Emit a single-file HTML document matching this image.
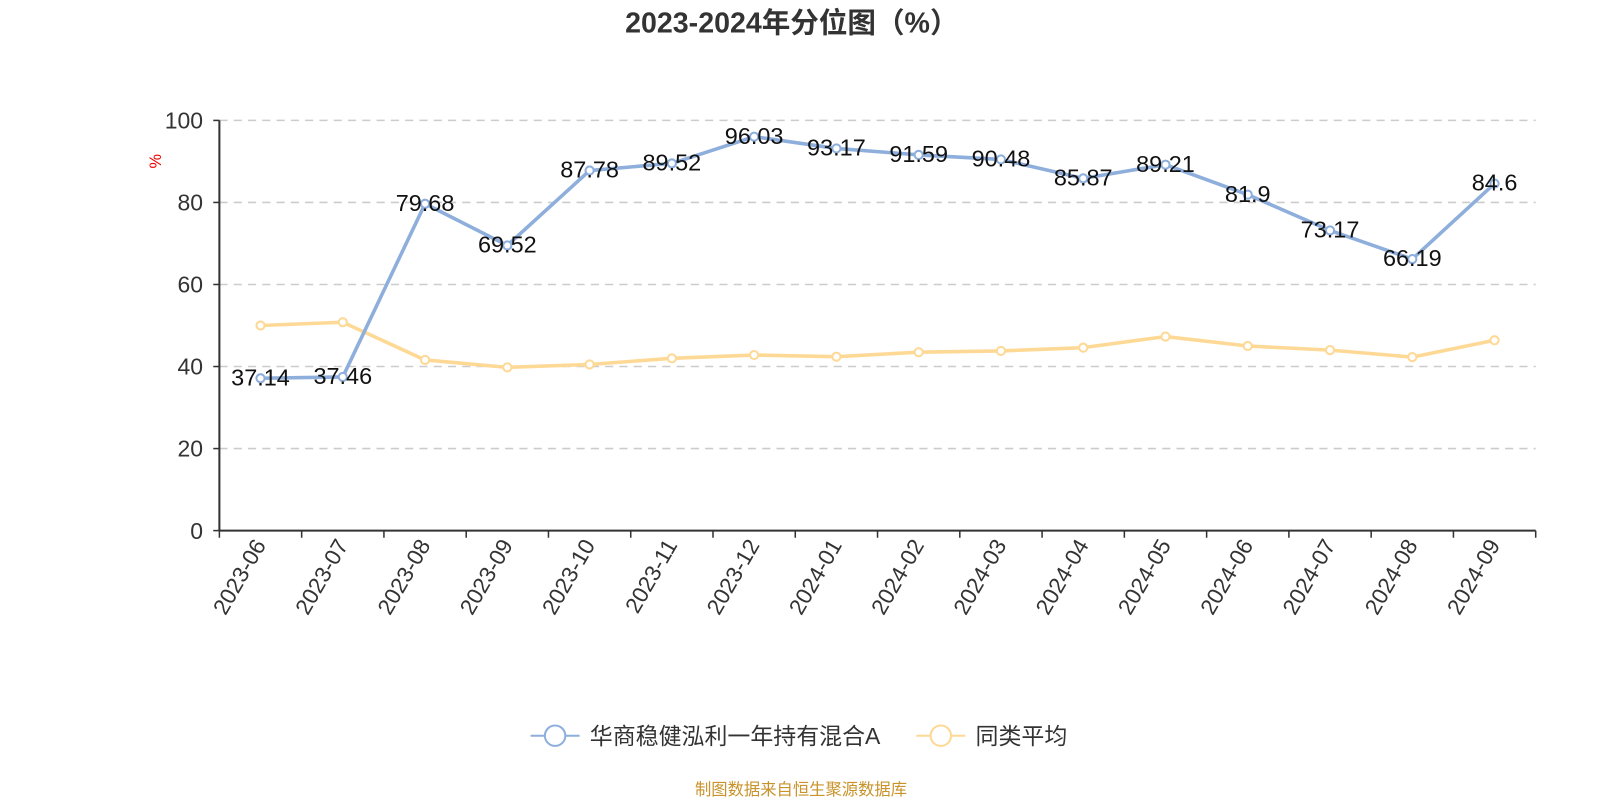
<!DOCTYPE html>
<html><head><meta charset="utf-8"><style>
body{margin:0;background:#fff;width:1600px;height:800px;overflow:hidden;font-family:"Liberation Sans","Noto Sans CJK SC",sans-serif}
</style></head><body>
<svg id="chart" width="1600" height="800" xmlns="http://www.w3.org/2000/svg" font-family="Liberation Sans, Noto Sans CJK SC, sans-serif">
<g id="root" transform="scale(1.0204)">
<text x="776" y="32" text-anchor="middle" font-size="28" font-weight="bold" fill="#333">2023-2024年分位图（%）</text>
<text transform="translate(158,158) rotate(-90)" text-anchor="middle" font-size="16" fill="#e00">%</text>
<g id="grid"></g><g id="axes"></g><g id="series"></g>
<g>
<g>
<line x1="520" y1="721" x2="568" y2="721" stroke="#8eaedc" stroke-width="2"/>
<circle cx="544" cy="721" r="10" fill="#fff" stroke="#8eaedc" stroke-width="2"/>
<text x="578" y="729" font-size="22.5" fill="#333">华商稳健泓利一年持有混合A</text></g>
<g>
<line x1="898" y1="721" x2="946" y2="721" stroke="#fdd995" stroke-width="2"/>
<circle cx="922" cy="721" r="10" fill="#fff" stroke="#fdd995" stroke-width="2"/>
<text x="956" y="729" font-size="22.5" fill="#333">同类平均</text></g>
</g>
<text x="785" y="779" text-anchor="middle" font-size="16" fill="#c8932a">制图数据来自恒生聚源数据库</text>
</g>
</svg>
<script>
const categories=["2023-06","2023-07","2023-08","2023-09","2023-10","2023-11","2023-12","2024-01","2024-02","2024-03","2024-04","2024-05","2024-06","2024-07","2024-08","2024-09"];
const fundValues=[37.14,37.46,79.68,69.52,87.78,89.52,96.03,93.17,91.59,90.48,85.87,89.21,81.9,73.17,66.19,84.6];
const fundLabels=["37.14","37.46","79.68","69.52","87.78","89.52","96.03","93.17","91.59","90.48","85.87","89.21","81.9","73.17","66.19","84.6"];
const avgValues=[50.0,50.8,41.6,39.8,40.5,42.0,42.8,42.4,43.5,43.8,44.6,47.3,45.0,44.0,42.3,46.4];
const yTicks=[0,20,40,60,80,100];
const NS="http://www.w3.org/2000/svg";
const L=215,R=1505,T=118,B=520;
const bw=(R-L)/categories.length;
const xs=i=>L+bw*(i+0.5);
const ys=v=>B-(v/100)*(B-T);
function mk(tag,attrs,parent,txt){const e=document.createElementNS(NS,tag);for(const k in attrs)e.setAttribute(k,attrs[k]);if(txt!==undefined)e.textContent=txt;parent.appendChild(e);return e;}
const grid=document.getElementById('grid'),axes=document.getElementById('axes'),series=document.getElementById('series');
yTicks.forEach(t=>{
  if(t>0){const g=mk('line',{x1:L,x2:R,y1:ys(t),y2:ys(t),stroke:'#ccc','stroke-width':1.5,'stroke-dasharray':'8,6'},grid);
  
  }
  mk('line',{x1:L-6,x2:L,y1:ys(t),y2:ys(t),stroke:'#333','stroke-width':1.5},axes);
  const lb=mk('text',{x:L-16,y:ys(t)+8,'text-anchor':'end','font-size':22.5,fill:'#333'},axes,String(t));
  
  
});
const ya=mk('line',{x1:L,x2:L,y1:T,y2:B,stroke:'#333','stroke-width':2},axes);


const xa=mk('line',{x1:L,x2:R,y1:B,y2:B,stroke:'#333','stroke-width':2},axes);


for(let i=0;i<=categories.length;i++){mk('line',{x1:L+bw*i,x2:L+bw*i,y1:B,y2:B+7,stroke:'#333','stroke-width':1.5},axes);}
categories.forEach((c,i)=>{
  const x=xs(i)+6,y=B+14;
  const t=mk('text',{x:x,y:y,'text-anchor':'end','font-size':22,fill:'#333',transform:`rotate(-60 ${x} ${y})`},axes,c);
  
  
});
function drawSeries(vals,color,name,labels){
  const p=mk('polyline',{points:vals.map((v,i)=>xs(i)+','+ys(v)).join(' '),fill:'none',stroke:color,'stroke-width':3.5,'stroke-linejoin':'round'},series);
  
  
  vals.forEach((v,i)=>{
    const c=mk('circle',{cx:xs(i),cy:ys(v),r:4,fill:'#fff',stroke:color,'stroke-width':2},series);
    
    
  });
  if(labels)vals.forEach((v,i)=>{
    const t=mk('text',{x:xs(i),y:ys(v)+7,'text-anchor':'middle','font-size':23,fill:'#111'},series,labels[i]);
    
    
  });
}
drawSeries(avgValues,'#fdd995','average');
drawSeries(fundValues,'#8eaedc','fund',fundLabels);
</script>
</body></html>
